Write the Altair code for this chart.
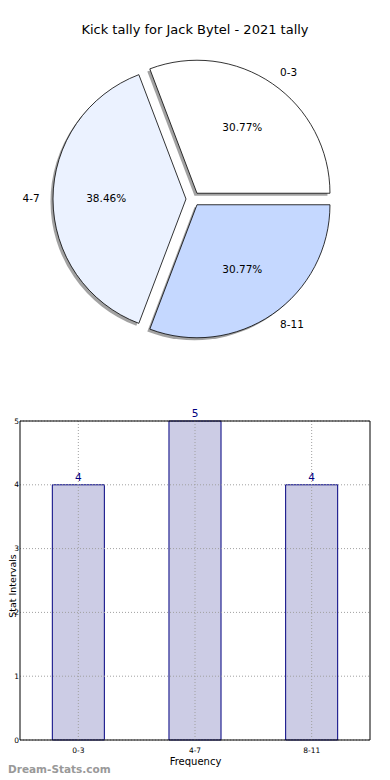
import math
import altair as alt
import pandas as pd

# ---- data ----
categories = ["0-3", "4-7", "8-11"]
counts = [4, 5, 4]
slice_colors = ["#ffffff", "#ebf2ff", "#c5d8ff"]
y_ticks = [0, 1, 2, 3, 4, 5]
title_text = "Kick tally for Jack Bytel - 2021 tally"

W, H = 374, 766
CX, CY, R = 185, 191, 133
EXPLODE = 7
FONT = "DejaVu Sans"

# ---- pie table (derived from data) ----
total = sum(counts)
rows = []
acc = 0.0
for cat, c, col in zip(categories, counts, slice_colors):
    a0 = 2 * math.pi * acc / total          # matplotlib: ccw from east
    acc += c
    a1 = 2 * math.pi * acc / total
    am = (a0 + a1) / 2
    rows.append({
        "cat": cat, "count": c, "color": col,
        "t0": math.pi / 2 - a1, "t1": math.pi / 2 - a0, "tm": math.pi / 2 - am,
        "dx": EXPLODE * math.cos(am), "dy": -EXPLODE * math.sin(am),
        "pct": f"{100 * c / total:.2f}%",
        "align": "left" if math.cos(am) >= 0 else "right",
    })
pie_df = pd.DataFrame(rows)
bar_df = pd.DataFrame({"cat": categories, "count": counts})
tick_df = pd.DataFrame({"v": y_ticks})

layers = []
for r in rows:
    src = alt.Chart(pie_df).transform_filter(alt.datum.cat == r["cat"])
    x0, y0 = CX + r["dx"], CY + r["dy"]
    shadow = src.mark_arc(radius=R, fill="#7a7a7a", opacity=0.7, x=x0 - 2.5, y=y0 + 2.5).encode(
        theta=alt.Theta("t0:Q", scale=None), theta2="t1:Q")
    layers.append(shadow)
for r in rows:
    src = alt.Chart(pie_df).transform_filter(alt.datum.cat == r["cat"])
    x0, y0 = CX + r["dx"], CY + r["dy"]
    wedge = src.mark_arc(radius=R, stroke="black", strokeWidth=0.8, x=x0, y=y0).encode(
        theta=alt.Theta("t0:Q", scale=None), theta2="t1:Q",
        fill=alt.Fill("color:N", scale=None))
    pct = src.mark_text(radius=R * 0.6, x=x0, y=y0, font=FONT, fontSize=10.5, color="black",
                        baseline="middle", align="center").encode(
        theta=alt.Theta("tm:Q", scale=None), text="pct:N")
    lab = src.mark_text(radius=R * 1.1, x=x0, y=y0, font=FONT, fontSize=10.5, color="black",
                        baseline="middle", align=r["align"]).encode(
        theta=alt.Theta("tm:Q", scale=None), text="cat:N")
    layers += [wedge, pct, lab]

title = alt.Chart(pd.DataFrame({"t": [title_text]})).mark_text(
    font=FONT, fontSize=13, color="black", x=187, y=22, baseline="middle").encode(text="t:N")
layers.append(title)

# ---- bar chart ----
PL, PR, PT, PB = 12, 362, 413, 732
xs = alt.Scale(domain=categories, range=[PL, PR], paddingInner=0.554, paddingOuter=0.277)
ys = alt.Scale(domain=[0, 5], range=[PB, PT], nice=False)

bars = alt.Chart(bar_df).mark_bar(fill="#cccce5", stroke="#000080", strokeWidth=1).encode(
    x=alt.X("cat:N", scale=xs, sort=categories,
            axis=alt.Axis(title="Frequency", offset=-(H - PB), domain=False, ticks=False,
                          grid=False, labelAngle=0, labelFont=FONT, labelFontSize=7.5,
                          labelColor="black", labelPadding=6, titleFont=FONT,
                          titleFontSize=10, titleFontWeight="normal", titleColor="black",
                          titlePadding=3)),
    y=alt.Y("count:Q", scale=ys,
            axis=alt.Axis(title=None, offset=-PL, domain=False, ticks=False, grid=False,
                          values=y_ticks, format="d", labelFont=FONT, labelFontSize=7.5,
                          labelColor="black", labelPadding=1.5)),
)
vals = alt.Chart(bar_df).mark_text(font=FONT, fontSize=10.5, color="#000080", baseline="bottom",
                                    dy=-2).encode(
    x=alt.X("cat:N", scale=xs, sort=categories), y=alt.Y("count:Q", scale=ys), text="count:Q")

hgrid = alt.Chart(tick_df).mark_rule(color="#a0a0a0", strokeDash=[1, 2], strokeWidth=1).encode(
    y=alt.Y("v:Q", scale=ys), x=alt.value(PL), x2=alt.value(PR))
vgrid = alt.Chart(bar_df).mark_rule(color="#a0a0a0", strokeDash=[1, 2], strokeWidth=1).encode(
    x=alt.X("cat:N", scale=xs, sort=categories, bandPosition=0.5), y=alt.value(PT), y2=alt.value(PB))
frame = alt.Chart(bar_df.head(1)).mark_rect(fill=None, stroke="black", strokeWidth=1).encode(
    x=alt.value(PL), x2=alt.value(PR), y=alt.value(PT), y2=alt.value(PB))

ytitle = alt.Chart(pd.DataFrame({"t": ["Stat Intervals"]})).mark_text(
    font=FONT, fontSize=9.5, color="black", angle=270, baseline="top", align="center",
    x=0, y=578).encode(text="t:N")
water = alt.Chart(pd.DataFrame({"t": ["Dream-Stats.com"]})).mark_text(
    font=FONT, fontSize=10.5, fontWeight="bold", color="#999999", align="left",
    baseline="middle", x=0, y=762).encode(text="t:N")

chart = alt.layer(*layers, bars, hgrid, vgrid, vals, frame, ytitle, water).properties(
    width=W, height=H, padding=0
).configure_view(stroke=None)

chart.save("out.html", embed_options={"renderer": "svg", "actions": False})
